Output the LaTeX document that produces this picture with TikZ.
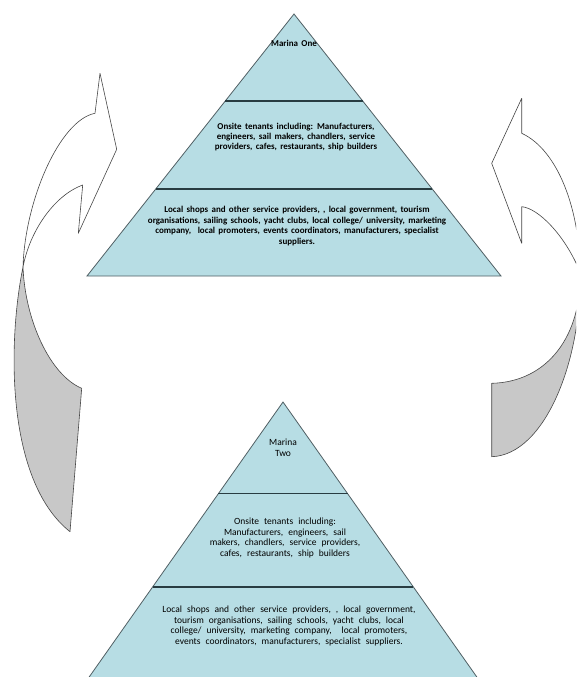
\documentclass[tikz,border=0pt]{standalone}
\usepackage{fontspec}
\setmainfont{Carlito}
\usetikzlibrary{calc}
\definecolor{pyrfill}{RGB}{183,221,228}
\definecolor{pyredge}{RGB}{80,95,100}
\definecolor{divline}{RGB}{40,60,65}
\definecolor{arrgray}{RGB}{200,200,200}
\definecolor{arredge}{RGB}{70,70,70}
\newcommand{\myTopFont}{\fontsize{9}{10.4}\selectfont\bfseries\spaceskip=3.3pt plus 1pt minus 1pt\relax}
\newcommand{\myBotFont}{\fontsize{9.5}{10.7}\selectfont\spaceskip=5pt plus 1pt minus 1pt\relax}
\tikzset{
 pyr/.style={fill=pyrfill, draw=pyredge, line width=0.8pt, line join=miter},
 divider/.style={draw=divline, line width=1.2pt},
 arrwhite/.style={fill=white, draw=arredge, line width=0.6pt, line join=round},
 arrback/.style={fill=arrgray, draw=arredge, line width=0.6pt, line join=round},
 toptxt/.style={align=center, inner sep=0pt, font=\myTopFont},
 bottxt/.style={align=center, inner sep=0pt, font=\myBotFont},
}
\begin{document}
\begin{tikzpicture}[x=1pt,y=-1pt]
\useasboundingbox (0,0) rectangle (576,677);
\clip (0,0) rectangle (576,677);
% left curved arrow
\draw[arrwhite] (100,73.3) -- (116.7,149.3) -- (78.3,233.3) -- (82.7,185)
  .. controls (55,195) and (30,230) .. (23,267)
  .. controls (25,200) and (60,120) .. (95,113.3) -- cycle;
\draw[arrback] (23,267) .. controls (8,340) and (5,480) .. (70,531.7)
  -- (81.7,388.3) .. controls (50,375) and (25,320) .. (23,267) -- cycle;
% right curved arrow
\draw[arrwhite] (521.7,98.3) -- (491.7,163.3) -- (521.7,243.3) -- (521.7,206.7)
  .. controls (538,208) and (565,235) .. (580,272)
  .. controls (580,210) and (558,150) .. (521.7,133.3) -- cycle;
\draw[arrback] (580,272) .. controls (582,360) and (545,455) .. (491.7,456.7)
  -- (491.7,383.3) .. controls (548,382) and (582,335) .. (580,272) -- cycle;
% top pyramid
\coordinate (A1) at (294,14);
\coordinate (L1) at (87,276);
\coordinate (R1) at (501,276);
\draw[pyr] (A1) -- (L1) -- (R1) -- cycle;
\draw[divider] ($(A1)!0.332!(L1)$) -- ($(A1)!0.332!(R1)$);
\draw[divider] ($(A1)!0.668!(L1)$) -- ($(A1)!0.668!(R1)$);
\node[toptxt] (mone) at (294,43) {Marina One};
\node[toptxt] (onsite1) at (296,137) {Onsite tenants including: Manufacturers,\\ engineers, sail makers, chandlers, service\\ providers, cafes, restaurants, ship builders};
\node[toptxt] (local1) at (297,226) {Local shops and other service providers, , local government, tourism\\ organisations, sailing schools, yacht clubs, local college/ university, marketing\\ company,\ \ local promoters, events coordinators, manufacturers, specialist\\ suppliers.};
% bottom pyramid
\coordinate (A2) at (283,402);
\coordinate (L2) at (80,690);
\coordinate (R2) at (486,690);
\draw[pyr] (A2) -- (L2) -- (R2) -- cycle;
\draw[divider] ($(A2)!0.319!(L2)$) -- ($(A2)!0.319!(R2)$);
\draw[divider] ($(A2)!0.642!(L2)$) -- ($(A2)!0.642!(R2)$);
\node[bottxt] (mtwo) at (283,448) {Marina\\ Two};
\node[bottxt] (onsite2) at (285,538) {Onsite tenants including:\\ Manufacturers, engineers, sail\\ makers, chandlers, service providers,\\ cafes, restaurants, ship builders};
\node[bottxt] (local2) at (289,626) {Local shops and other service providers, , local government,\\ tourism organisations, sailing schools, yacht clubs, local\\ college/ university, marketing company,\ \ local promoters,\\ events coordinators, manufacturers, specialist suppliers.};
\end{tikzpicture}
\end{document}
